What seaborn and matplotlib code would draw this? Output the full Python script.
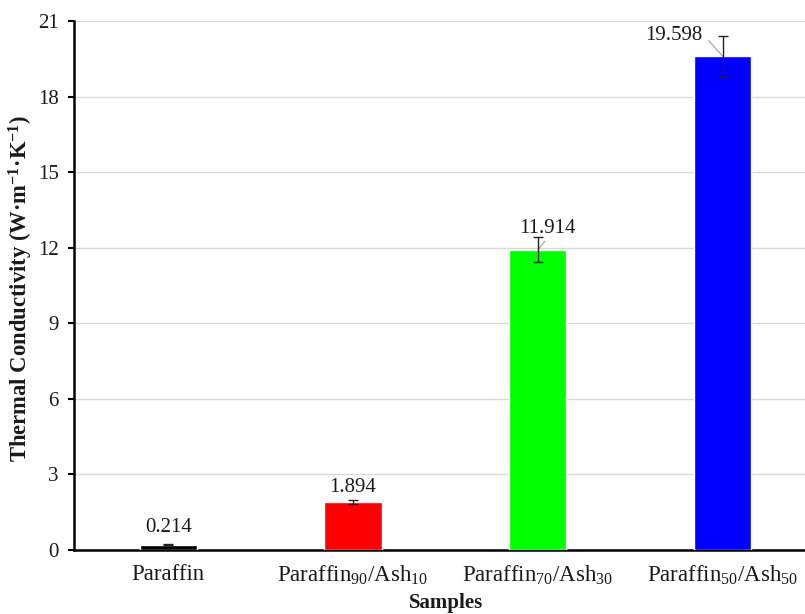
import matplotlib
matplotlib.use("Agg")
import matplotlib.pyplot as plt
import seaborn as sns
import pandas as pd

# Samples and measured thermal conductivity
samples = ["Paraffin", "Paraffin$_{90}$/Ash$_{10}$",
           "Paraffin$_{70}$/Ash$_{30}$", "Paraffin$_{50}$/Ash$_{50}$"]
conductivity = [0.214, 1.894, 11.914, 19.598]
errors = [0.03, 0.08, 0.5, 0.82]
bar_colors = ["#000000", "#ff0000", "#00ff00", "#0000ff"]
y_ticks = [0, 3, 6, 9, 12, 15, 18, 21]

sns.set_theme(style="white")
plt.rcParams["font.family"] = ["Liberation Serif", "DejaVu Serif"]
plt.rcParams["mathtext.fontset"] = "custom"
plt.rcParams["mathtext.rm"] = "Liberation Serif"
plt.rcParams["mathtext.it"] = "Liberation Serif:italic"
plt.rcParams["mathtext.bf"] = "Liberation Serif:bold"

df = pd.DataFrame({"Sample": samples, "k": conductivity})

fig = plt.figure(figsize=(8.05, 6.14), dpi=100)
ax = fig.add_axes([74 / 805, 64 / 614, 741 / 805, 529 / 614])

sns.barplot(data=df, x="Sample", y="k", hue="Sample", palette=bar_colors,
            errorbar=None, width=0.31, legend=False, ax=ax, zorder=3,
            saturation=1)
ax.errorbar(range(len(samples)), conductivity, yerr=errors, fmt="none",
            ecolor="#222222", elinewidth=1.0, capsize=3.5, capthick=1.0,
            zorder=4)

# value labels
ax.annotate(f"{conductivity[0]:.3f}", xy=(0, conductivity[0]),
            xytext=(0, 12), textcoords="offset points", ha="center",
            va="center", fontsize=15, color="#1a1a1a")
ax.annotate(f"{conductivity[1]:.3f}", xy=(1, conductivity[1]),
            xytext=(0, 10.5), textcoords="offset points", ha="center",
            va="center", fontsize=15, color="#1a1a1a")
ax.annotate(f"{conductivity[2]:.3f}", xy=(2, conductivity[2]),
            xytext=(7, 15.5), textcoords="offset points", ha="center",
            va="center", fontsize=15, color="#1a1a1a",
            arrowprops=dict(arrowstyle="-", color="#a0a0a0", lw=0.8,
                            shrinkA=0, shrinkB=0, relpos=(0.5, 0.0)))
ax.annotate(f"{conductivity[3]:.3f}", xy=(3, conductivity[3]),
            xytext=(-35, 15), textcoords="offset points", ha="center",
            va="center", fontsize=15, color="#1a1a1a",
            arrowprops=dict(arrowstyle="-", color="#a0a0a0", lw=0.8,
                            shrinkA=3, shrinkB=0, relpos=(1.0, 0.6)))

ax.set_ylim(0, 21)
ax.set_xlim(-0.51, 3.5)
ax.set_yticks(y_ticks)
ax.set_yticklabels([str(t) for t in y_ticks])
ax.yaxis.grid(True, color="#d9d9d9", linewidth=1.0, zorder=0)
ax.xaxis.grid(False)
ax.set_axisbelow(True)

for s in ["top", "right"]:
    ax.spines[s].set_visible(False)
for s in ["left", "bottom"]:
    ax.spines[s].set_color("black")
    ax.spines[s].set_linewidth(1.8)

ax.tick_params(axis="y", which="major", left=True, length=4, width=1.5,
               color="black", pad=7, labelsize=15, labelcolor="#1a1a1a")
ax.tick_params(axis="x", which="major", bottom=False, length=0, pad=10,
               labelsize=16.5, labelcolor="#1a1a1a")

ax.set_xlabel("Samples", fontsize=15, fontweight="bold", color="#1a1a1a")
ax.set_ylabel("Thermal Conductivity (W·m$\\mathbf{^{-1}}$·K$\\mathbf{^{-1}}$)",
              fontsize=16.3, fontweight="bold", color="#1a1a1a")
ax.xaxis.set_label_coords(0.502, -0.082)
ax.yaxis.set_label_coords(-0.053, 0.495)

fig.savefig("out.png", dpi=100)
